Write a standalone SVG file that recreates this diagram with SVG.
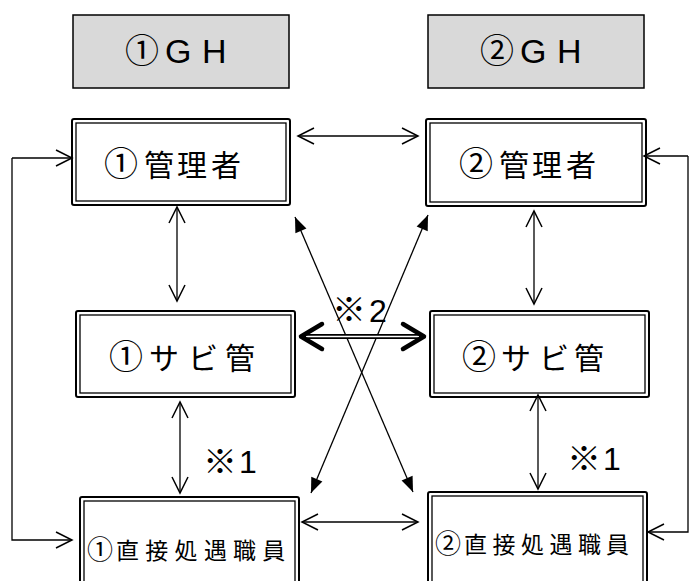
<svg xmlns="http://www.w3.org/2000/svg" width="690" height="581" viewBox="0 0 690 581">
<style>
.gh{fill:#d9d9d9;stroke:#000;stroke-width:1.5}
.o{fill:#fff;stroke:#000;stroke-width:2}
.i{fill:none;stroke:#000;stroke-width:1.3}
text{font-family:"Noto Sans CJK JP","Noto Sans CJK SC",sans-serif;fill:#000}
.lb{font-size:30px}
.cn{font-size:34px}
.sm{font-size:23px}
.cs{font-size:26px}
.lat{font-family:"Liberation Sans",Arial,sans-serif}
.km{font-size:34px}
.dg{font-family:"Liberation Sans",Arial,sans-serif;font-size:32px}
.c{fill:none;stroke:#000;stroke-width:1.3}
</style>
<defs>
<marker id="oa" viewBox="-18 -10 20 20" refX="0" refY="0" markerWidth="20" markerHeight="20" markerUnits="userSpaceOnUse" orient="auto-start-reverse">
<path d="M-16,-8 L0,0 L-16,8" fill="none" stroke="#000" stroke-width="1.5"/>
</marker>
<marker id="fa" viewBox="-16 -8 18 16" refX="0" refY="0" markerWidth="18" markerHeight="16" markerUnits="userSpaceOnUse" orient="auto-start-reverse">
<path d="M-15,-6 L0,0 L-15,6 Z" fill="#000"/>
</marker>
</defs>
<g id="gh1"><rect class="gh" x="73" y="15" width="216" height="73"/><text y="63"><tspan class="cn" x="125">①</tspan><tspan class="lat" font-size="34" x="165">G</tspan><tspan class="lat" font-size="34" x="202">H</tspan></text></g>
<g id="gh2"><rect class="gh" x="428" y="15" width="216" height="73"/><text y="63"><tspan class="cn" x="480">②</tspan><tspan class="lat" font-size="34" x="520">G</tspan><tspan class="lat" font-size="34" x="557">H</tspan></text></g>
<g id="mgr1"><rect class="o" x="72" y="119" width="218" height="86" rx="2"/><rect class="i" x="76" y="123" width="210" height="78"/><text y="176"><tspan class="cn" x="104">①</tspan><tspan class="lb" x="144 177 211">管理者</tspan></text></g>
<g id="mgr2"><rect class="o" x="426" y="119" width="220" height="87" rx="2"/><rect class="i" x="430" y="123" width="212" height="79"/><text y="176"><tspan class="cn" x="459">②</tspan><tspan class="lb" x="499 532 566">管理者</tspan></text></g>
<g id="sabi1"><rect class="o" x="76" y="311" width="219" height="86" rx="2"/><rect class="i" x="80" y="315" width="211" height="78"/><text y="369"><tspan class="cn" x="109">①</tspan><tspan class="lb" x="149 188 225">サビ管</tspan></text></g>
<g id="sabi2"><rect class="o" x="430" y="311" width="219" height="86" rx="2"/><rect class="i" x="434" y="315" width="211" height="78"/><text y="369"><tspan class="cn" x="462">②</tspan><tspan class="lb" x="501 539 574">サビ管</tspan></text></g>
<g id="staff1"><rect class="o" x="80" y="497" width="219" height="110" rx="2"/><rect class="i" x="84" y="501" width="211" height="110"/><text y="559"><tspan class="cs" x="87">①</tspan><tspan class="sm" x="116 145.3 174.6 204 233 262.3">直接処遇職員</tspan></text></g>
<g id="staff2"><rect class="o" x="428" y="492" width="219" height="110" rx="2"/><rect class="i" x="432" y="496" width="211" height="110"/><text y="553"><tspan class="cs" x="435">②</tspan><tspan class="sm" x="464 492.5 521 549.5 578 606">直接処遇職員</tspan></text></g>
<g id="connectors">
<line class="c" x1="298" y1="136" x2="418" y2="136" marker-start="url(#oa)" marker-end="url(#oa)"/>
<line class="c" x1="302" y1="522" x2="418" y2="522" marker-start="url(#oa)" marker-end="url(#oa)"/>
<line class="c" x1="177" y1="207" x2="177" y2="301" marker-start="url(#oa)" marker-end="url(#oa)"/>
<line class="c" x1="534" y1="211" x2="534" y2="304" marker-start="url(#oa)" marker-end="url(#oa)"/>
<line class="c" x1="180" y1="402" x2="180" y2="493" marker-start="url(#oa)" marker-end="url(#oa)"/>
<line class="c" x1="538" y1="395" x2="538" y2="489" marker-start="url(#oa)" marker-end="url(#oa)"/>
<path class="c" d="M12,158 L12,540 L72,540" marker-end="url(#oa)"/>
<line class="c" x1="12" y1="158" x2="72" y2="158" marker-end="url(#oa)"/>
<path class="c" d="M688,156 L688,532 L648,532" marker-end="url(#oa)"/>
<line class="c" x1="688" y1="156" x2="644" y2="156" marker-end="url(#oa)"/>
<line class="c" x1="295" y1="217" x2="413" y2="492" marker-start="url(#fa)" marker-end="url(#fa)"/>
<line class="c" x1="428" y1="215" x2="311" y2="493" marker-start="url(#fa)" marker-end="url(#fa)"/>
<line x1="303" y1="336.5" x2="422" y2="336.5" stroke="#000" stroke-width="5"/>
<line x1="306" y1="336.5" x2="419" y2="336.5" stroke="#fff" stroke-width="1.5"/>
<path d="M322,324 L301,336.5 L322,349" fill="none" stroke="#000" stroke-width="4.5" stroke-linecap="round" stroke-linejoin="round"/>
<path d="M403,324 L424,336.5 L403,349" fill="none" stroke="#000" stroke-width="4.5" stroke-linecap="round" stroke-linejoin="round"/>
</g>
<g id="notes">
<text><tspan class="km" x="332" y="322">※</tspan><tspan class="dg" x="369" y="322">2</tspan></text>
<text><tspan class="km" x="203" y="474">※</tspan><tspan class="dg" x="239" y="473">1</tspan></text>
<text><tspan class="km" x="567" y="471">※</tspan><tspan class="dg" x="603" y="470">1</tspan></text>
</g>
</svg>
